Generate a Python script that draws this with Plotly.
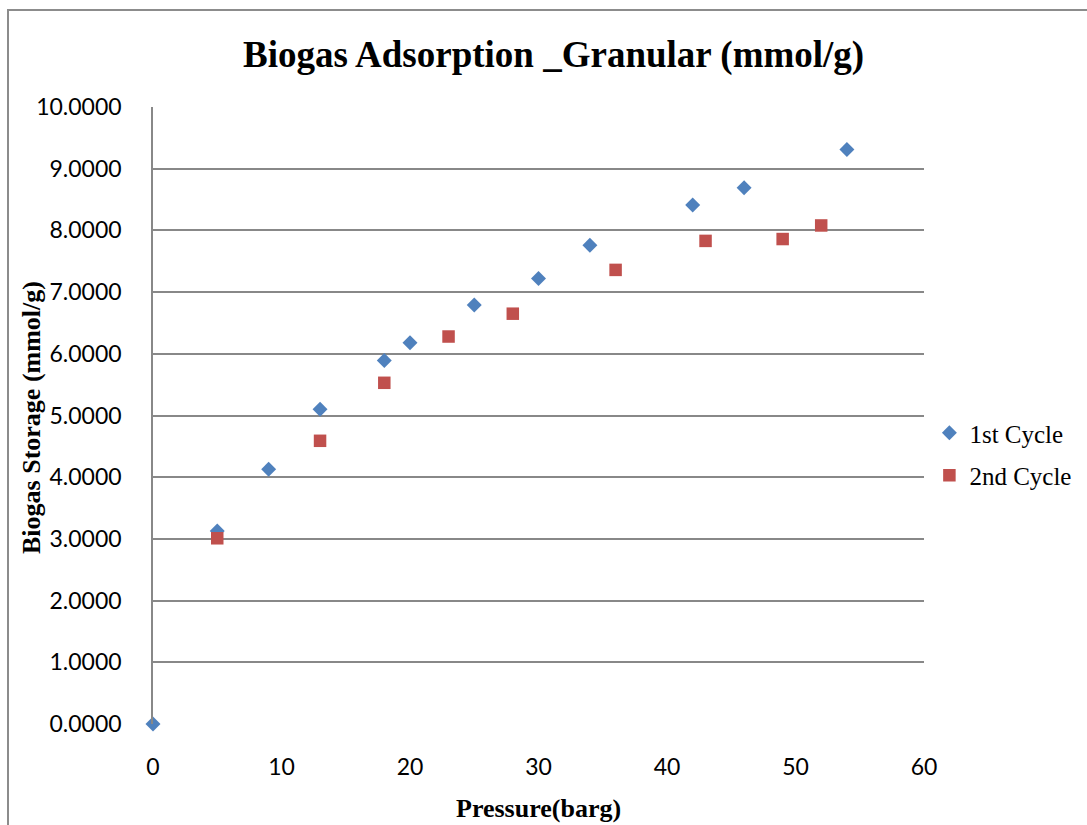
import plotly.graph_objects as go

# Data
cycle1_pressure = [0, 5, 9, 13, 18, 20, 25, 30, 34, 42, 46, 54]
cycle1_storage = [0.0, 3.13, 4.13, 5.10, 5.89, 6.18, 6.79, 7.22, 7.76, 8.41, 8.69, 9.31]
cycle2_pressure = [5, 13, 18, 23, 28, 36, 43, 49, 52]
cycle2_storage = [3.01, 4.59, 5.53, 6.28, 6.65, 7.36, 7.83, 7.86, 8.08]

series_names = ["1st Cycle", "2nd Cycle"]
x_ticks = [0, 10, 20, 30, 40, 50, 60]
y_ticks = [0, 1, 2, 3, 4, 5, 6, 7, 8, 9, 10]

BLUE = "#4F81BD"
RED = "#C0504D"
GRID = "#888888"

fig = go.Figure()
fig.add_trace(go.Scatter(
    x=cycle1_pressure, y=cycle1_storage, mode="markers", name=series_names[0],
    legendgroup="a",
    marker=dict(symbol="diamond", size=11.5, color=BLUE, line=dict(width=0)),
    cliponaxis=False,
))
fig.add_trace(go.Scatter(
    x=cycle2_pressure, y=cycle2_storage, mode="markers", name=series_names[1],
    legendgroup="b",
    marker=dict(symbol="square", size=12.5, color=RED, line=dict(width=0)),
    cliponaxis=False,
))

fig.update_layout(
    width=1087, height=825,
    margin=dict(l=153, r=163, t=107, b=101, autoexpand=False),
    paper_bgcolor="white", plot_bgcolor="white",
    showlegend=True,
    legend=dict(
        x=1.007, xanchor="left", y=(724 - 454) / 617, yanchor="middle",
        font=dict(family="Liberation Serif", size=25, color="black"),
        itemwidth=30, traceorder="grouped", tracegroupgap=7,
        bgcolor="rgba(0,0,0,0)",
    ),
    xaxis=dict(
        range=[0, 60], tickvals=x_ticks, showgrid=False, zeroline=False,
        showline=False, ticks="", ticklabelstandoff=27,
        tickfont=dict(family="Lato", size=23, color="black"),
    ),
    yaxis=dict(
        range=[0, 10], tickvals=y_ticks, tickformat=".4f",
        showgrid=True, gridcolor=GRID, gridwidth=1.6,
        zeroline=False, showline=True, linecolor=GRID, linewidth=1.6,
        ticks="", ticklabelstandoff=25,
        tickfont=dict(family="Lato", size=23, color="black"),
    ),
    annotations=[
        dict(text="<b>Biogas Adsorption _Granular (mmol/g)</b>",
             xref="paper", yref="paper", x=(553.5 - 153) / 771, y=(724 - 55) / 617,
             xanchor="center", yanchor="middle", showarrow=False,
             font=dict(family="Liberation Serif", size=37, color="black")),
        dict(text="<b>Pressure(barg)</b>",
             xref="paper", yref="paper", x=(538 - 153) / 771, y=(724 - 808) / 617,
             xanchor="center", yanchor="middle", showarrow=False,
             font=dict(family="Liberation Serif", size=26, color="black")),
        dict(text="<b>Biogas Storage (mmol/g)</b>",
             xref="paper", yref="paper", x=(32 - 153) / 771, y=(724 - 418) / 617,
             xanchor="center", yanchor="middle", showarrow=False, textangle=-90,
             font=dict(family="Liberation Serif", size=26, color="black")),
    ],
    shapes=[
        dict(type="rect", xref="paper", yref="paper",
             x0=(8 - 153) / 771, x1=(1100 - 153) / 771,
             y0=(724 - 840) / 617, y1=(724 - 10) / 617,
             line=dict(color="#8c8c8c", width=2), fillcolor="rgba(0,0,0,0)",
             layer="below"),
    ],
)

fig.write_html("out.html")
